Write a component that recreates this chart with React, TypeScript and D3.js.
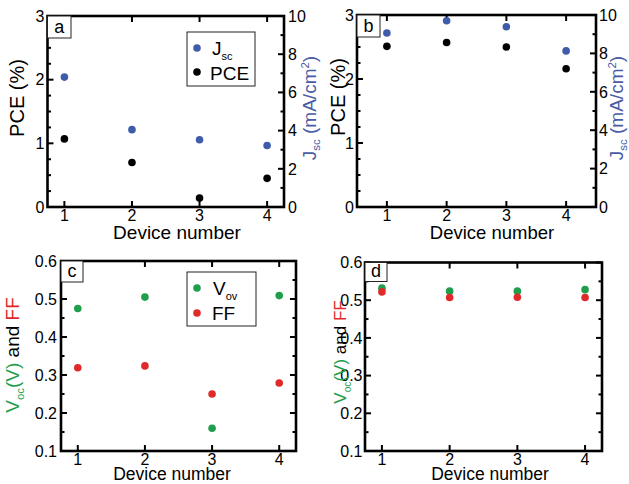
import React from 'react';
import * as d3 from 'd3';

const devices = [1, 2, 3, 4];
const pceA = [1.07, 0.7, 0.14, 0.45];
const jscA = [6.8, 4.05, 3.52, 3.22];
const pceB = [2.51, 2.57, 2.5, 2.16];
const jscB = [9.06, 9.7, 9.39, 8.13];
const vocC = [0.475, 0.505, 0.16, 0.509];
const ffC = [0.319, 0.324, 0.25, 0.279];
const vocD = [0.532, 0.524, 0.524, 0.528];
const ffD = [0.522, 0.507, 0.508, 0.507];
const pceTicks = [0, 1, 2, 3];
const jscTicks = [0, 2, 4, 6, 8, 10];
const vffTicks = [0.1, 0.2, 0.3, 0.4, 0.5, 0.6];

const BLUE = '#3f5caa';
const BLUE_T = '#4a5ca6';
const GREEN = '#1f9e4c';
const RED = '#e02a2a';
const FONT = 'Liberation Sans, Arial, Helvetica, sans-serif';

type AxisSpec = { domain: [number, number]; majors: number[]; minor: number; labels: boolean; fmt: (v: number) => string };
type Series = { values: number[]; side: 'l' | 'r'; color: string };
type PanelProps = {
  x0: number; x1: number; y0: number; y1: number;
  xDomain: [number, number];
  left: AxisSpec; right?: AxisSpec;
  series: Series[];
  tag: string; tagBox: [number, number, number, number];
  xTitle: { x: number; y: number; size: number };
  tickGapL: number; tickGapR: number;
};

function minorTicks(a: AxisSpec) {
  const out: number[] = [];
  const n = Math.round((a.domain[1] - a.domain[0]) / a.minor);
  for (let i = 0; i <= n; i++) out.push(+(a.domain[0] + i * a.minor).toFixed(4));
  return out;
}

function Panel(p: PanelProps) {
  const x = d3.scaleLinear().domain(p.xDomain).range([p.x0, p.x1]);
  const yl = d3.scaleLinear().domain(p.left.domain).range([p.y1, p.y0]);
  const yr = p.right ? d3.scaleLinear().domain(p.right.domain).range([p.y1, p.y0]) : yl;
  const rightAxis = p.right || { ...p.left, labels: false };
  const MAJ = 6, MIN = 3.5;
  return (
    <g>
      {minorTicks(p.left).map((v, i) => {
        const isMaj = p.left.majors.some((m) => Math.abs(m - v) < 1e-6);
        return <line key={'lt' + i} x1={p.x0} x2={p.x0 + (isMaj ? MAJ : MIN)} y1={yl(v)} y2={yl(v)} stroke="#000" strokeWidth={2} />;
      })}
      {minorTicks(rightAxis).map((v, i) => {
        const isMaj = rightAxis.majors.some((m) => Math.abs(m - v) < 1e-6);
        return <line key={'rt' + i} x1={p.x1} x2={p.x1 - (isMaj ? MAJ : MIN)} y1={yr(v)} y2={yr(v)} stroke="#000" strokeWidth={2} />;
      })}
      {devices.map((d) => (
        <g key={'xt' + d}>
          <line x1={x(d)} x2={x(d)} y1={p.y1} y2={p.y1 - MAJ} stroke="#000" strokeWidth={2} />
          <line x1={x(d)} x2={x(d)} y1={p.y0} y2={p.y0 + MAJ} stroke="#000" strokeWidth={2} />
          <text x={x(d)} y={p.y1 + 13.5} fontSize={16} textAnchor="middle" fontFamily={FONT}>{d}</text>
        </g>
      ))}
      <rect x={p.x0} y={p.y0} width={p.x1 - p.x0} height={p.y1 - p.y0} fill="none" stroke="#000" strokeWidth={2.6} />
      {p.left.majors.map((v) => (
        <text key={'ll' + v} x={p.x0 - p.tickGapL} y={yl(v)} dy="0.36em" fontSize={16} textAnchor="end" fontFamily={FONT}>{p.left.fmt(v)}</text>
      ))}
      {p.right && p.right.labels && p.right.majors.map((v) => (
        <text key={'rl' + v} x={p.x1 + p.tickGapR} y={yr(v)} dy="0.36em" fontSize={16} textAnchor="start" fontFamily={FONT}>{p.right!.fmt(v)}</text>
      ))}
      {p.series.map((s, si) =>
        s.values.map((v, i) => (
          <circle key={'s' + si + '_' + i} cx={x(devices[i])} cy={s.side === 'l' ? yl(v) : yr(v)} r={3.8} fill={s.color} />
        ))
      )}
      <rect x={p.tagBox[0]} y={p.tagBox[1]} width={p.tagBox[2]} height={p.tagBox[3]} fill="#fff" stroke="#222" strokeWidth={1} />
      <text x={p.tagBox[0] + p.tagBox[2] / 2} y={p.tagBox[1] + p.tagBox[3] - 5} fontSize={18} textAnchor="middle" fontFamily={FONT}>{p.tag}</text>
      <text x={p.xTitle.x} y={p.xTitle.y} fontSize={p.xTitle.size} textAnchor="middle" fontFamily={FONT}>Device number</text>
    </g>
  );
}

function JscTitle({ x, y, size }: { x: number; y: number; size: number }) {
  return (
    <text transform={`translate(${x},${y}) rotate(-90)`} fontSize={size} textAnchor="middle" fill={BLUE_T} fontFamily={FONT}>
      J<tspan fontSize={size * 0.6} dy={4}>sc</tspan>
      <tspan dy={-4}> (mA/cm</tspan>
      <tspan fontSize={size * 0.6} dy={-7}>2</tspan>
      <tspan dy={7}>)</tspan>
    </text>
  );
}

function VffTitle({ x, y, size }: { x: number; y: number; size: number }) {
  return (
    <text transform={`translate(${x},${y}) rotate(-90)`} fontSize={size} textAnchor="middle" fontFamily={FONT}>
      <tspan fill={GREEN}>V</tspan>
      <tspan fill={GREEN} fontSize={size * 0.6} dy={5}>oc</tspan>
      <tspan fill={GREEN} dy={-5}>(V)</tspan>
      <tspan fill="#000"> and </tspan>
      <tspan fill={RED}>FF</tspan>
    </text>
  );
}

const fmtInt = (v: number) => String(v);
const fmt1 = (v: number) => v.toFixed(1);

export default function App() {
  const pceAxis: AxisSpec = { domain: [0, 3], majors: pceTicks, minor: 0.25, labels: true, fmt: fmtInt };
  const jscAxis: AxisSpec = { domain: [0, 10], majors: jscTicks, minor: 1, labels: true, fmt: fmtInt };
  const vAxis: AxisSpec = { domain: [0.1, 0.6], majors: vffTicks, minor: 0.05, labels: true, fmt: fmt1 };
  return (
    <svg width={629} height={484} style={{ position: 'absolute', left: 0, top: 0, background: '#fff' }}>
      <rect width={629} height={484} fill="#fff" />
      {/* Panel a */}
      <Panel x0={47.5} x1={284} y0={16} y1={207} xDomain={[0.75, 4.25]} left={pceAxis} right={jscAxis}
        series={[{ values: jscA, side: 'r', color: BLUE }, { values: pceA, side: 'l', color: '#000' }]}
        tag="a" tagBox={[47.5, 16, 23.5, 22]} xTitle={{ x: 177, y: 239, size: 19 }} tickGapL={3} tickGapR={4} />
      <text transform="translate(24,98) rotate(-90)" fontSize={20} textAnchor="middle" fontFamily={FONT}>PCE (%)</text>
      <JscTitle x={316} y={108} size={19} />
      <rect x={187} y={32} width={68} height={54} fill="#fff" stroke="#222" strokeWidth={1} />
      <circle cx={197} cy={48} r={3.8} fill={BLUE} />
      <circle cx={197} cy={72} r={3.8} fill="#000" />
      <text x={212} y={55} fontSize={19} fontFamily={FONT}>J<tspan fontSize={11} dy={5}>sc</tspan></text>
      <text x={210} y={80} fontSize={19} fontFamily={FONT}>PCE</text>

      {/* Panel b */}
      <Panel x0={357} x1={596} y0={15} y1={207} xDomain={[0.5, 4.5]} left={pceAxis} right={jscAxis}
        series={[{ values: jscB, side: 'r', color: BLUE }, { values: pceB, side: 'l', color: '#000' }]}
        tag="b" tagBox={[357, 15, 23, 22]} xTitle={{ x: 492, y: 239, size: 18.5 }} tickGapL={3} tickGapR={3} />
      <text transform="translate(345,97) rotate(-90)" fontSize={20} textAnchor="middle" fontFamily={FONT}>PCE (%)</text>
      <JscTitle x={623} y={108} size={19} />

      {/* Panel c */}
      <Panel x0={61} x1={296} y0={261} y1={451} xDomain={[0.75, 4.25]} left={vAxis}
        series={[{ values: vocC, side: 'l', color: GREEN }, { values: ffC, side: 'l', color: RED }]}
        tag="c" tagBox={[61, 261, 22, 21]} xTitle={{ x: 172, y: 479.5, size: 17.5 }} tickGapL={4} tickGapR={3} />
      <VffTitle x={18.5} y={355} size={19} />
      <rect x={187} y={272} width={69} height={54} fill="#fff" stroke="#222" strokeWidth={1} />
      <circle cx={197} cy={288} r={3.8} fill={GREEN} />
      <circle cx={197} cy={313} r={3.8} fill={RED} />
      <text x={213} y={295} fontSize={19} fontFamily={FONT}>V<tspan fontSize={11} dy={5}>ov</tspan></text>
      <text x={212} y={320} fontSize={19} fontFamily={FONT}>FF</text>

      {/* Panel d */}
      <Panel x0={365} x1={602} y0={262.5} y1={451} xDomain={[0.75, 4.25]} left={vAxis}
        series={[{ values: vocD, side: 'l', color: GREEN }, { values: ffD, side: 'l', color: RED }]}
        tag="d" tagBox={[365, 262.5, 22, 19]} xTitle={{ x: 490, y: 479.5, size: 17.5 }} tickGapL={2.5} tickGapR={3} />
      <VffTitle x={346} y={352} size={17} />
    </svg>
  );
}
